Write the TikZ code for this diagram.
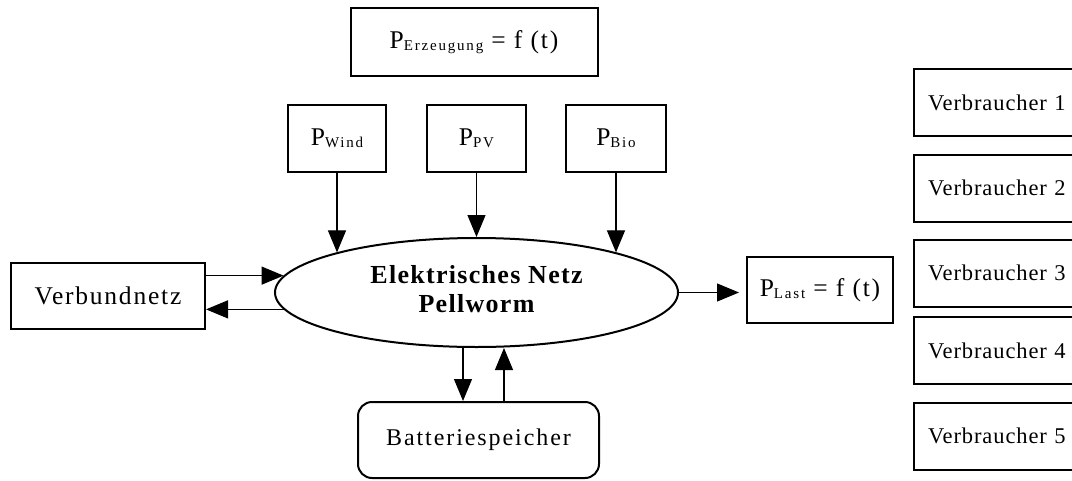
\documentclass[tikz,border=0pt]{standalone}
\usepackage{fontspec}
\setmainfont{Liberation Serif}
\usetikzlibrary{arrows.meta,shapes.geometric}
\newcommand\subtxt[1]{\raisebox{-2pt}{\fontsize{15}{15}\selectfont\addfontfeature{LetterSpace=12}#1}}
\tikzset{every node/.style={font=\fontsize{25.5}{30}\selectfont\addfontfeature{LetterSpace=7},align=center},
box/.style={draw,line width=2pt,inner sep=0pt},
cons/.style={box,anchor=west,text width=150pt,align=left,inner xsep=14pt,minimum height=67pt,
  font=\fontsize{22.5}{26}\selectfont\addfontfeature{LetterSpace=4}},
arr/.style={-{Triangle[length=22pt,width=18pt]},line width=1.2pt}}
\begin{document}
\begin{tikzpicture}[x=1pt,y=-1pt]
\useasboundingbox (0,0) rectangle (1072,480);
\clip (0,0) rectangle (1072,480);
\node[box,minimum width=247pt,minimum height=68pt] (gen) at (474,42)
{P\subtxt{Erzeugung} = f (t)};
\node[box,minimum width=98pt,minimum height=67pt] (pw) at (337,138.5) {P\subtxt{Wind}};
\node[box,minimum width=99pt,minimum height=67pt] (pv) at (476.5,138.5) {P\subtxt{PV}};
\node[box,minimum width=100pt,minimum height=67pt] (pb) at (616,138.5) {P\subtxt{Bio}};
\node[ellipse,draw,line width=2pt,inner sep=0pt,minimum width=403pt,minimum height=109pt,
  font=\fontsize{26}{29}\selectfont\bfseries\addfontfeature{LetterSpace=5}] (netz) at (476.5,292.5)
{\raisebox{-5pt}{\begin{tabular}{@{}c@{}}Elektrisches Netz\\Pellworm\end{tabular}}};
\node[box,minimum width=194pt,minimum height=66pt] (vn) at (108,296) {Verbundnetz};
\node[box,minimum width=146pt,minimum height=66pt] (last) at (820,290) {P\subtxt{Last} = f (t)};
\node[box,rounded corners=14pt,minimum width=241pt,minimum height=76pt,
  font=\fontsize{24}{28}\selectfont\addfontfeature{LetterSpace=8}] (bat) at (478.5,440)
{Batteriespeicher};
\node[cons] (v1) at (913,102.5) {Verbraucher 1};
\node[cons] (v2) at (913,188) {Verbraucher 2};
\node[cons] (v3) at (913,273) {Verbraucher 3};
\node[cons] (v4) at (913,350.5) {Verbraucher 4};
\node[cons] (v5) at (913,436) {Verbraucher 5};
% Erzeugung
\draw[arr] (pw.south) -- (pw.south |- netz.164);
\draw[arr] (pv.south) -- (netz.north);
\draw[arr] (pb.south) -- (pb.south |- netz.16);
% Verbundnetz
\draw[arr] (vn.east |- netz.175) -- (netz.175);
\draw[arr] (netz.185) -- (netz.185 -| vn.east);
% Speicher
\draw[arr] ([xshift=-15.5pt]bat.north |- netz.south) -- ([xshift=-15.5pt]bat.north);
\draw[arr] ([xshift=25.5pt]bat.north) -- ([xshift=25.5pt]bat.north |- netz.south);
% Last
\draw[arr] (netz.east) -- ([xshift=-7pt]netz.east -| last.west);
\end{tikzpicture}
\end{document}
